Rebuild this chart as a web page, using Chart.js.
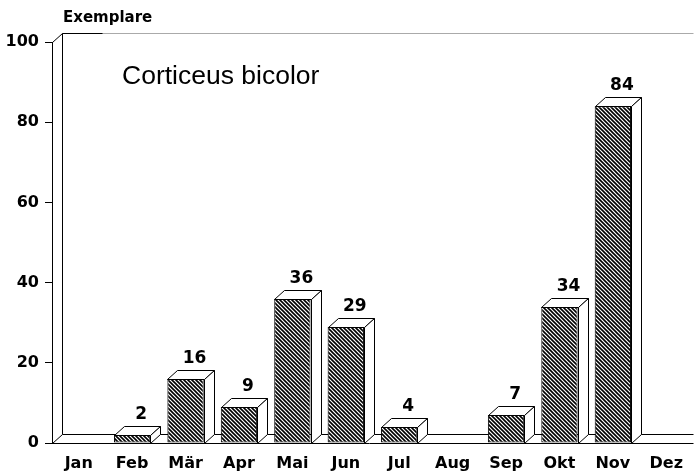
<!DOCTYPE html>
<html>
<head>
<meta charset="utf-8">
<script src="https://cdn.jsdelivr.net/npm/chart.js@4.4.1/dist/chart.umd.min.js"></script>
<style>
  html,body{margin:0;padding:0;background:#fff}
</style>
</head>
<body>
<canvas id="chart" width="695" height="473"></canvas>
<script>
// data
const months = ["Jan","Feb","Mär","Apr","Mai","Jun","Jul","Aug","Sep","Okt","Nov","Dez"];
const counts = [0,2,16,9,36,29,4,0,7,34,84,0];
const yMin = 0, yMax = 100, yStep = 20;
const titleText = "Corticeus bicolor";
const yAxisTitle = "Exemplare";

// 3d depth of the drawing
const DX = 10, DY = 9;
const boldFont = {family:"DejaVu Sans", weight:"bold", size:16};

function hatch(){
  const c = document.createElement("canvas");
  c.width = 4; c.height = 4;
  const g = c.getContext("2d");
  g.fillStyle = "#fff"; g.fillRect(0,0,4,4);
  g.strokeStyle = "#000"; g.lineWidth = 1.6;
  g.beginPath();
  g.moveTo(-1,-1); g.lineTo(5,5);
  g.moveTo(3,-1); g.lineTo(5,1);
  g.moveTo(-1,3); g.lineTo(1,5);
  g.stroke();
  return g.createPattern(c,"repeat");
}

function line(ctx,x1,y1,x2,y2){
  ctx.beginPath(); ctx.moveTo(x1,y1); ctx.lineTo(x2,y2); ctx.stroke();
}

const frame = {
  id:"frame",
  beforeDatasetsDraw(chart){
    const {ctx, chartArea:a, scales:{y}} = chart;
    const y0 = Math.round(y.getPixelForValue(yMin))+0.5;
    const yt = Math.round(y.getPixelForValue(yMax))+0.5;
    const l = Math.round(a.left)+0.5, r = Math.round(a.right)+0.5;
    ctx.save();
    ctx.lineWidth = 1;
    ctx.strokeStyle = "#aaa";
    line(ctx,l+DX,yt-DY,r,yt-DY);
    ctx.strokeStyle = "#000";
    line(ctx,l+DX,yt-DY,l+DX+40,yt-DY);
    line(ctx,l,yt,l+DX,yt-DY);
    line(ctx,l+DX,yt-DY,l+DX,y0-DY);
    line(ctx,l+DX,y0-DY,r,y0-DY);
    line(ctx,l,y0,l+DX,y0-DY);
    line(ctx,l-7,y0,r,y0);
    ctx.restore();
  }
};

const bars3d = {
  id:"bars3d",
  afterDatasetsDraw(chart){
    const ctx = chart.ctx;
    const meta = chart.getDatasetMeta(0);
    ctx.save();
    ctx.lineWidth = 1;
    ctx.strokeStyle = "#000";
    meta.data.forEach((el,i)=>{
      const v = counts[i];
      if(!v) return;
      const p = el.getProps(["x","y","base","width"],true);
      const L = Math.round(p.x-p.width/2)+0.5, R = Math.round(p.x+p.width/2)+0.5;
      const T = Math.round(p.y)+0.5, B = Math.round(p.base)+0.5;
      ctx.fillStyle = "#fff";
      ctx.beginPath();
      ctx.moveTo(L,T); ctx.lineTo(L+DX,T-DY); ctx.lineTo(R+DX,T-DY); ctx.lineTo(R,T); ctx.closePath();
      ctx.fill(); ctx.stroke();
      ctx.beginPath();
      ctx.moveTo(R,T); ctx.lineTo(R+DX,T-DY); ctx.lineTo(R+DX,B-DY); ctx.lineTo(R,B); ctx.closePath();
      ctx.fill(); ctx.stroke();
      ctx.fillStyle = "#000";
      ctx.font = "bold 17px 'DejaVu Sans'";
      ctx.textAlign = "center";
      ctx.textBaseline = "alphabetic";
      ctx.fillText(String(v), p.x+DX-1, T-DY-8);
    });
    ctx.restore();
  },
  afterDraw(chart){
    const ctx = chart.ctx;
    ctx.save();
    ctx.fillStyle = "#000";
    ctx.textBaseline = "alphabetic";
    ctx.textAlign = "left";
    ctx.font = "bold 15px 'DejaVu Sans'";
    ctx.fillText(yAxisTitle, 63, 22);
    ctx.font = "26.5px 'Liberation Sans'";
    ctx.fillText(titleText, 122, 84);
    ctx.restore();
  }
};

new Chart(document.getElementById("chart"),{
  type:"bar",
  data:{
    labels:months,
    datasets:[{
      data:counts,
      backgroundColor:hatch(),
      borderColor:"#000",
      borderWidth:1,
      borderSkipped:false,
      barPercentage:0.68,
      categoryPercentage:1
    }]
  },
  options:{
    responsive:false,
    devicePixelRatio:1,
    animation:false,
    layout:{padding:{top:42,right:2,left:0,bottom:0}},
    plugins:{legend:{display:false},tooltip:{enabled:false}},
    scales:{
      x:{
        grid:{display:false},
        border:{display:false},
        ticks:{font:boldFont,color:"#000",padding:3,maxRotation:0,autoSkip:false},
        afterFit(s){s.height=30;}
      },
      y:{
        min:yMin,max:yMax,
        ticks:{stepSize:yStep,font:boldFont,color:"#000",padding:6},
        grid:{drawOnChartArea:false,tickLength:7,color:"#000"},
        border:{display:true,color:"#000"},
        afterFit(s){s.width=52;}
      }
    }
  },
  plugins:[frame,bars3d]
});
</script>
</body>
</html>
